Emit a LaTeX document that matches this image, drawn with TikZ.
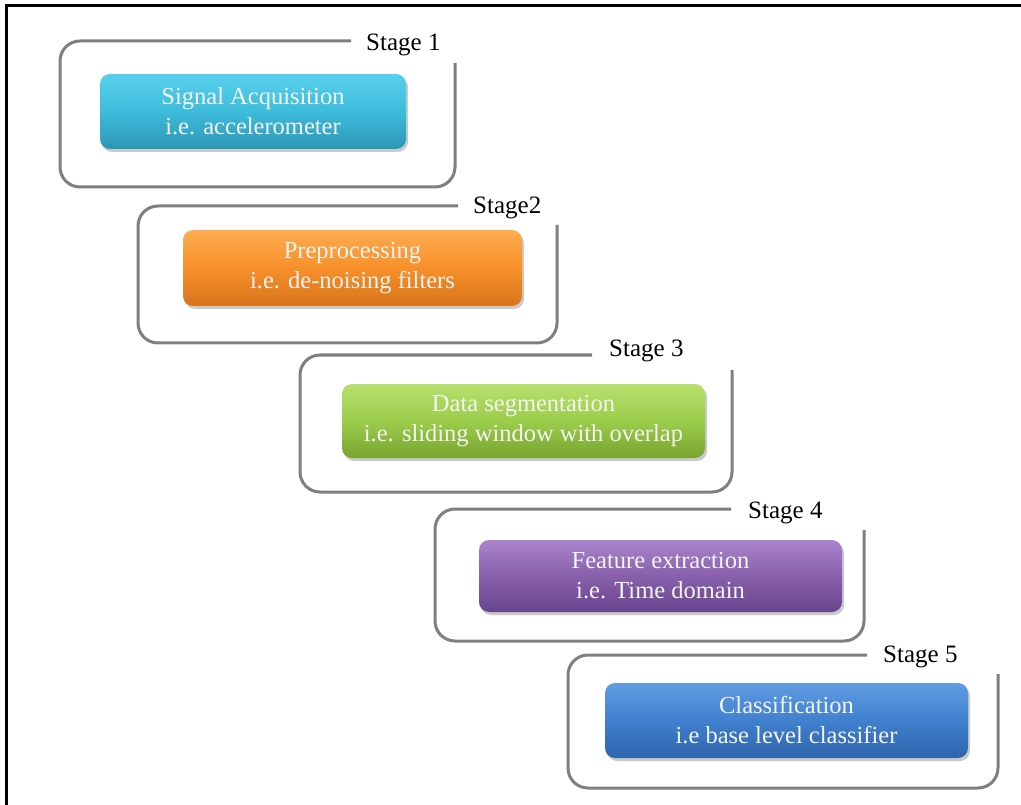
\documentclass[tikz,border=0pt]{standalone}
\usepackage{fontspec}
\setmainfont{Liberation Serif}
\usetikzlibrary{shadows}
\definecolor{framegray}{HTML}{7F7F7F}
\definecolor{boxtext}{HTML}{F4F4F4}
\tikzset{
  stagebox/.style={rounded corners=10pt, inner sep=0pt, align=center,
    text=boxtext, font=\fontsize{24.5}{30}\selectfont,
    drop shadow={shadow xshift=2pt, shadow yshift=-3pt, opacity=0.35, fill=black!60}},
  stageframe/.style={draw=framegray, line width=3pt, rounded corners=20pt},
  stagelabel/.style={anchor=west, inner sep=0pt, font=\fontsize{25}{28}\selectfont}
}
\begin{document}
\begin{tikzpicture}[x=1pt,y=-1pt]
\useasboundingbox (0,0) rectangle (1021,805);
% outer black frame (top and left edges)
\draw[line width=3pt] (6.5,805) -- (6.5,5.5) -- (1021,5.5);

% stage 1
\draw[stageframe] (351,41) -- (60,41) -- (60,187) -- (455,187) -- (455,63);
\node[stagelabel] (l1) at (366,45) {Stage 1};
\node[stagebox, minimum width=306pt, minimum height=75pt,
  top color={rgb,255:red,88;green,208;blue,236}, bottom color={rgb,255:red,44;green,150;blue,182},
  middle color={rgb,255:red,62;green,188;blue,220}] (s1) at (253,111.5)
  {Signal Acquisition\\i.e. accelerometer};

% stage 2
\draw[stageframe] (458,206) -- (138,206) -- (138,343) -- (557,343) -- (557,225);
\node[stagelabel] (l2) at (473,208) {Stage2};
\node[stagebox, minimum width=339pt, minimum height=76pt,
  top color={rgb,255:red,252;green,172;blue,80}, bottom color={rgb,255:red,216;green,116;blue,28},
  middle color={rgb,255:red,247;green,144;blue,42}] (s2) at (352.5,268)
  {Preprocessing\\i.e. de-noising filters};

% stage 3
\draw[stageframe] (592,355) -- (300,355) -- (300,492) -- (732,492) -- (732,370);
\node[stagelabel] (l3) at (609,351) {Stage 3};
\node[stagebox, minimum width=363pt, minimum height=74pt,
  top color={rgb,255:red,184;green,224;blue,110}, bottom color={rgb,255:red,120;green,164;blue,48},
  middle color={rgb,255:red,155;green,204;blue,74}] (s3) at (523.5,421)
  {Data segmentation\\i.e. sliding window with overlap};

% stage 4
\draw[stageframe] (731,509) -- (435,509) -- (435,641) -- (864,641) -- (864,530);
\node[stagelabel] (l4) at (748,513) {Stage 4};
\node[stagebox, minimum width=363pt, minimum height=72pt,
  top color={rgb,255:red,170;green,132;blue,204}, bottom color={rgb,255:red,104;green,68;blue,142},
  middle color={rgb,255:red,136;green,96;blue,172}] (s4) at (660.5,576)
  {Feature extraction\\i.e. Time domain};

% stage 5
\draw[stageframe] (867,655) -- (568,655) -- (568,788) -- (998,788) -- (998,674);
\node[stagelabel] (l5) at (883,657) {Stage 5};
\node[stagebox, minimum width=363pt, minimum height=75pt,
  top color={rgb,255:red,96;green,156;blue,226}, bottom color={rgb,255:red,46;green,100;blue,172},
  middle color={rgb,255:red,64;green,128;blue,206}] (s5) at (786.5,720.5)
  {Classification\\i.e base level classifier};
\end{tikzpicture}
\end{document}
